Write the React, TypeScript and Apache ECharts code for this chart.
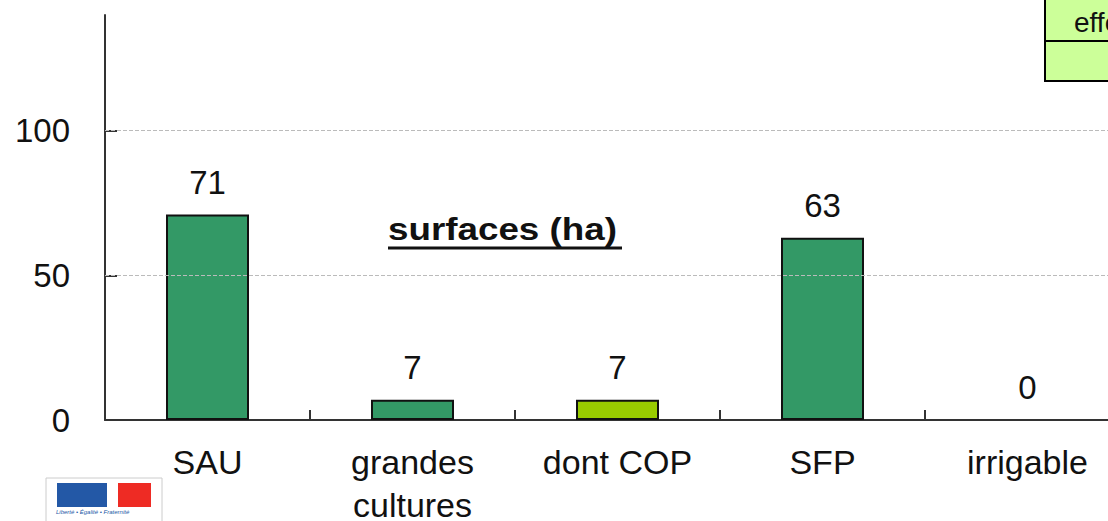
import React, { useEffect, useRef } from "react";
import * as echarts from "echarts";

const categories = ["SAU", "grandes\ncultures", "dont COP", "SFP", "irrigable"];
const values = [71, 7, 7, 63, 0];
const barColors = ["#339966", "#339966", "#99cc00", "#339966", "#339966"];
const yTicks = [0, 50, 100];
const gridLines = [50, 100];
const chartTitle = "surfaces (ha)";
const boxText = "effectifs";

const FONT = "Liberation Sans, Arial, sans-serif";

export default function App() {
  const ref = useRef<HTMLDivElement>(null);
  useEffect(() => {
    if (!ref.current) return;
    const chart = echarts.init(ref.current, undefined, { renderer: "svg" });
    chart.setOption({
      animation: false,
      backgroundColor: "#ffffff",
      grid: { left: 105, right: -22, top: 15, bottom: 101, outerBoundsMode: "none", containLabel: false },
      xAxis: {
        type: "category",
        data: categories,
        axisLine: { lineStyle: { color: "#333", width: 2 } },
        axisTick: { show: true, inside: true, length: 10, lineStyle: { color: "#333", width: 2 } },
        axisLabel: {
          color: "#111",
          fontSize: 34,
          fontFamily: FONT,
          margin: 20,
          lineHeight: 43,
        },
      },
      yAxis: {
        type: "value",
        min: 0,
        max: 140,
        interval: 50,
        axisLine: { show: true, lineStyle: { color: "#333", width: 2 } },
        axisTick: { show: true, inside: true, length: 12, customValues: yTicks, lineStyle: { color: "#333", width: 2 } },
        axisLabel: { color: "#111", fontSize: 33, fontFamily: FONT, margin: 35, customValues: yTicks },
        splitLine: { show: false },
      },
      series: [
        {
          type: "bar",
          data: values.map((v, i) => ({
            value: v,
            itemStyle: { color: barColors[i], borderWidth: v === 0 ? 0 : 2 },
          })),
          barWidth: 83,
          itemStyle: { borderColor: "#111", borderWidth: 2 },
          label: {
            show: true,
            position: "top",
            distance: 16,
            color: "#111",
            fontSize: 33,
            fontFamily: FONT,
          },
          markLine: {
            silent: true,
            symbol: "none",
            label: { show: false },
            lineStyle: { type: "dashed", color: "#bbbbbb", width: 1 },
            data: gridLines.map((g) => ({ yAxis: g })),
          },
        },
      ],
      graphic: [
        {
          type: "text",
          x: 388,
          y: 213,
          scaleX: 1.15,
          style: { text: chartTitle, fontSize: 32, fontWeight: "bold", fontFamily: FONT, fill: "#111" },
        },
        {
          type: "line",
          shape: { x1: 388, y1: 248, x2: 622, y2: 248 },
          style: { stroke: "#111", lineWidth: 3 },
        },
        {
          type: "rect",
          shape: { x: 1045, y: -4, width: 100, height: 85 },
          style: { fill: "#ccff99", stroke: "#000", lineWidth: 2 },
        },
        {
          type: "line",
          shape: { x1: 1045, y1: 41, x2: 1110, y2: 41 },
          style: { stroke: "#000", lineWidth: 2 },
        },
        {
          type: "text",
          x: 1074,
          y: 8,
          style: { text: boxText, fontSize: 28, fontFamily: FONT, fill: "#111" },
        },
        {
          type: "rect",
          shape: { x: 46, y: 478, width: 116, height: 50 },
          style: { fill: "#fff", stroke: "#cccccc", lineWidth: 1 },
        },
        {
          type: "rect",
          shape: { x: 57, y: 483, width: 50, height: 24 },
          style: { fill: "#2358a6" },
        },
        {
          type: "rect",
          shape: { x: 118, y: 483, width: 33, height: 24 },
          style: { fill: "#ee2b24" },
        },
        {
          type: "text",
          x: 56,
          y: 509,
          style: { text: "Liberté • Égalité • Fraternité", fontSize: 6, fontStyle: "italic", fontFamily: FONT, fill: "#2358a6" },
        },
      ],
    });
    return () => chart.dispose();
  }, []);
  return (
    <div
      ref={ref}
      style={{ position: "fixed", left: 0, top: 0, width: 1108, height: 521 }}
    />
  );
}
